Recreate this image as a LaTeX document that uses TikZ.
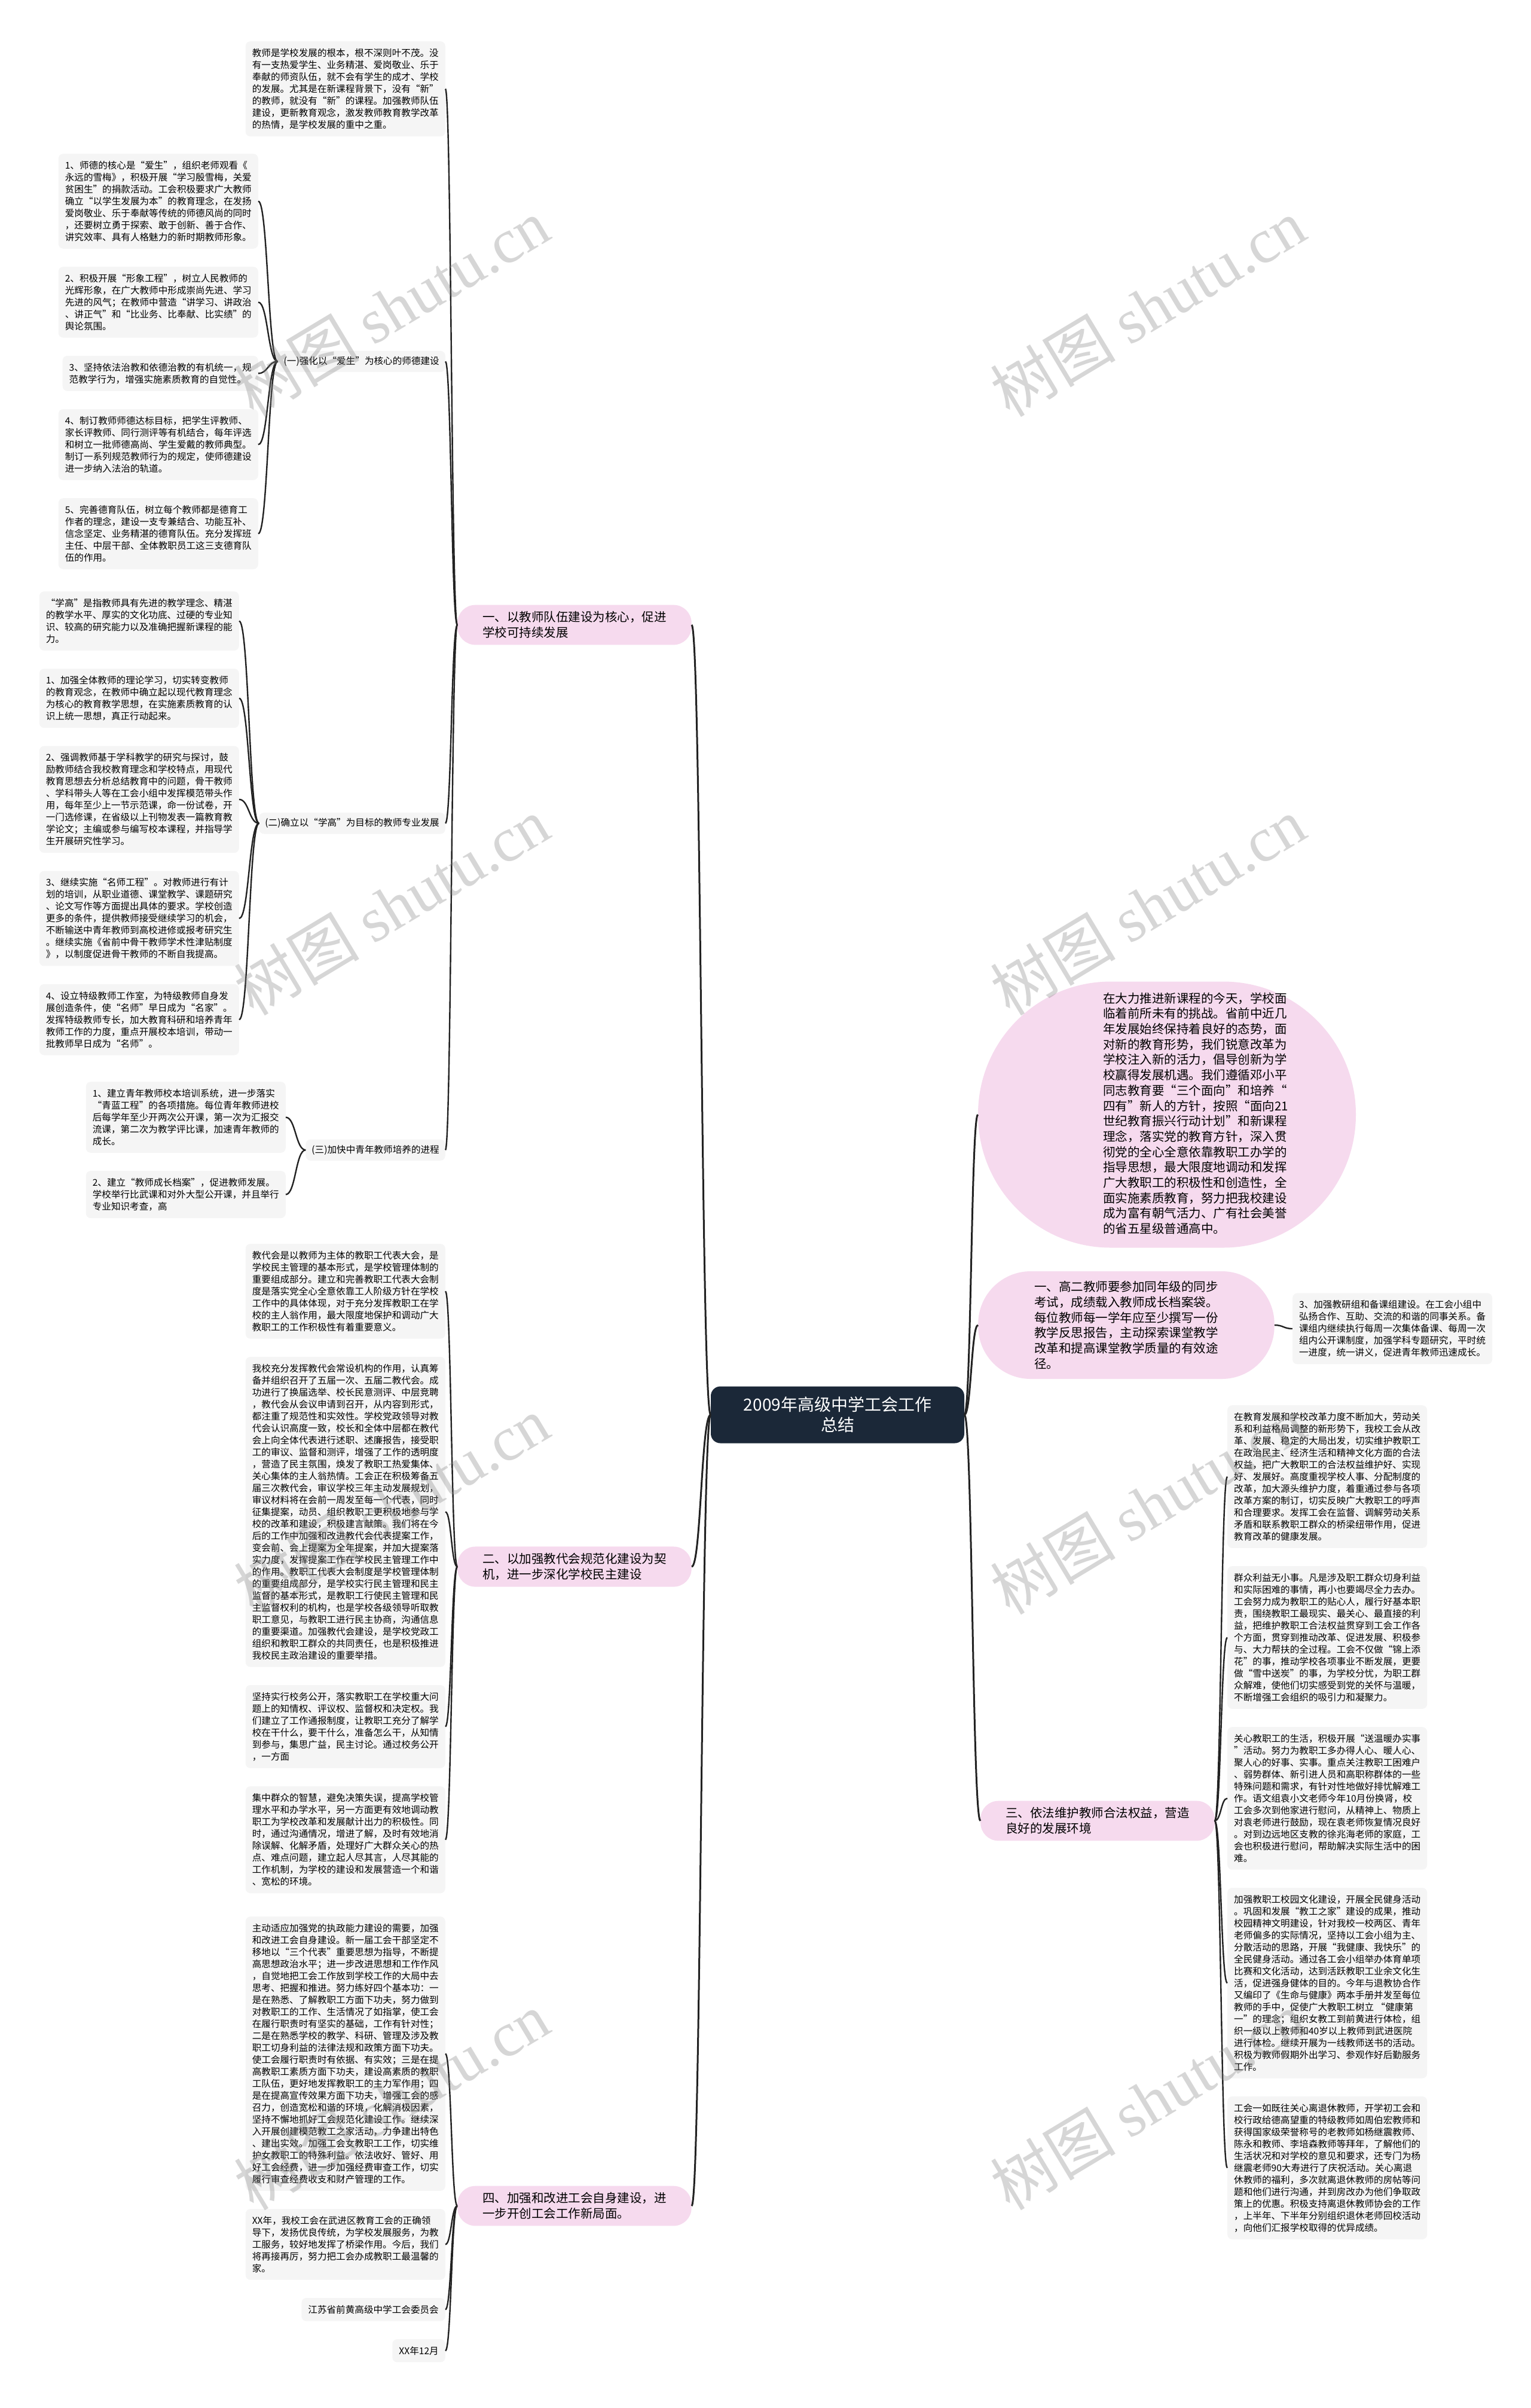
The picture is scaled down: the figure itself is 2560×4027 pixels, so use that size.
\documentclass[tikz,border=0pt]{standalone}
\usepackage{fontspec}
\newfontfamily\cjk{Noto Sans CJK SC}
\newfontfamily\wmlatin{Liberation Serif}
\usetikzlibrary{positioning,calc}
\definecolor{Ink}{RGB}{34,34,34}
\definecolor{Navy}{RGB}{27,40,56}
\definecolor{Blush}{RGB}{246,218,238}
\definecolor{Paper}{RGB}{245,245,245}

\begin{document}
\begin{tikzpicture}[x=1pt,y=-1pt,
    root/.style={rectangle,fill=Navy,text=white,rounded corners=16pt,minimum width=424pt,minimum height=95pt,align=center,font=\cjk\fontsize{28}{34}\selectfont},
    topic/.style={rectangle,fill=Blush,rounded corners=30pt,inner xsep=42pt,inner ysep=11pt,align=left,font=\cjk\fontsize{20.5}{25.7}\selectfont},
    pill/.style={rectangle,fill=Blush,align=left,font=\cjk\fontsize{20.5}{25.7}\selectfont},
    sub/.style={rectangle,fill=Paper,rounded corners=8pt,inner xsep=10pt,inner ysep=9.5pt,font=\cjk\fontsize{15.6}{20}\selectfont},
    blk/.style={rectangle,fill=Paper,rounded corners=8pt,inner xsep=11pt,inner ysep=12pt,align=left,font=\cjk\fontsize{15.6}{20}\selectfont},
    link/.style={draw=Ink,line width=2.4pt,to path={let \p1=(\tikztostart),\p2=(\tikztotarget) in .. controls ({0.5*\x1+0.5*\x2},\y1) and ({0.5*\x1+0.5*\x2},\y2) .. (\tikztotarget)}},
    trunk/.style={link,line width=3pt},
    wmark/.style={text=gray,opacity=.32,rotate=31,font=\cjk\fontsize{105}{105}\selectfont}
]
\fill[white] (0,0) rectangle (2560,4027);
\useasboundingbox (0,0) rectangle (2560,4027);

% Root
\node[root] (ctr) at (1401,2366) {2009年高级中学工会工作\\总结};

% Section one (left)
\node[topic,anchor=west] (l1a) at (765,1045) {一、以教师队伍建设为核心，促进\\学校可持续发展};
\node[blk,anchor=north east] (a0) at (745,69) {教师是学校发展的根本，根不深则叶不茂。没\\有一支热爱学生、业务精湛、爱岗敬业、乐于\\奉献的师资队伍，就不会有学生的成才、学校\\的发展。尤其是在新课程背景下，没有“新”\\的教师，就没有“新”的课程。加强教师队伍\\建设，更新教育观念，激发教师教育教学改革\\的热情，是学校发展的重中之重。};

\node[blk,anchor=north east] (b1) at (432,257) {1、师德的核心是“爱生”，组织老师观看《\\永远的雪梅》，积极开展“学习殷雪梅，关爱\\贫困生”的捐款活动。工会积极要求广大教师\\确立“以学生发展为本”的教育理念，在发扬\\爱岗敬业、乐于奉献等传统的师德风尚的同时\\，还要树立勇于探索、敢于创新、善于合作、\\讲究效率、具有人格魅力的新时期教师形象。};
\node[blk,anchor=north east] (b2) at ($(b1.south east)+(0,30)$) {2、积极开展“形象工程”，树立人民教师的\\光辉形象，在广大教师中形成崇尚先进、学习\\先进的风气；在教师中营造“讲学习、讲政治\\、讲正气”和“比业务、比奉献、比实绩”的\\舆论氛围。};
\node[blk,anchor=north east] (b3) at ($(b2.south east)+(0,30)$) {3、坚持依法治教和依德治教的有机统一，规\\范教学行为，增强实施素质教育的自觉性。};
\node[blk,anchor=north east] (b4) at ($(b3.south east)+(0,30)$) {4、制订教师师德达标目标，把学生评教师、\\家长评教师、同行测评等有机结合，每年评选\\和树立一批师德高尚、学生爱戴的教师典型。\\制订一系列规范教师行为的规定，使师德建设\\进一步纳入法治的轨道。};
\node[blk,anchor=north east] (b5) at ($(b4.south east)+(0,30)$) {5、完善德育队伍，树立每个教师都是德育工\\作者的理念，建设一支专兼结合、功能互补、\\信念坚定、业务精湛的德育队伍。充分发挥班\\主任、中层干部、全体教职员工这三支德育队\\伍的作用。};
\path let \p1=($(b1.north)!.5!(b5.south)$) in node[sub,anchor=east] (grp1) at (745pt,\y1) {(一)强化以“爱生”为核心的师德建设};

\node[blk,anchor=north east] (c0) at (400,989) {“学高”是指教师具有先进的教学理念、精湛\\的教学水平、厚实的文化功底、过硬的专业知\\识、较高的研究能力以及准确把握新课程的能\\力。};
\node[blk,anchor=north east] (c1) at ($(c0.south east)+(0,30)$) {1、加强全体教师的理论学习，切实转变教师\\的教育观念，在教师中确立起以现代教育理念\\为核心的教育教学思想，在实施素质教育的认\\识上统一思想，真正行动起来。};
\node[blk,anchor=north east] (c2) at ($(c1.south east)+(0,30)$) {2、强调教师基于学科教学的研究与探讨，鼓\\励教师结合我校教育理念和学校特点，用现代\\教育思想去分析总结教育中的问题，骨干教师\\、学科带头人等在工会小组中发挥模范带头作\\用，每年至少上一节示范课，命一份试卷，开\\一门选修课，在省级以上刊物发表一篇教育教\\学论文；主编或参与编写校本课程，并指导学\\生开展研究性学习。};
\node[blk,anchor=north east] (c3) at ($(c2.south east)+(0,30)$) {3、继续实施“名师工程”。对教师进行有计\\划的培训，从职业道德、课堂教学、课题研究\\、论文写作等方面提出具体的要求。学校创造\\更多的条件，提供教师接受继续学习的机会，\\不断输送中青年教师到高校进修或报考研究生\\。继续实施《省前中骨干教师学术性津贴制度\\》，以制度促进骨干教师的不断自我提高。};
\node[blk,anchor=north east] (c4) at ($(c3.south east)+(0,30)$) {4、设立特级教师工作室，为特级教师自身发\\展创造条件，使“名师”早日成为“名家”。\\发挥特级教师专长，加大教育科研和培养青年\\教师工作的力度，重点开展校本培训，带动一\\批教师早日成为“名师”。};
\path let \p1=($(c0.north)!.5!(c4.south)$) in node[sub,anchor=east] (grp2) at (745pt,\y1) {(二)确立以“学高”为目标的教师专业发展};

\node[blk,anchor=north east] (d1) at (478,1809) {1、建立青年教师校本培训系统，进一步落实\\“青蓝工程”的各项措施。每位青年教师进校\\后每学年至少开两次公开课，第一次为汇报交\\流课，第二次为教学评比课，加速青年教师的\\成长。};
\node[blk,anchor=north east] (d2) at ($(d1.south east)+(0,30)$) {2、建立“教师成长档案”，促进教师发展。\\学校举行比武课和对外大型公开课，并且举行\\专业知识考查，高};
\path let \p1=($(d1.north)!.5!(d2.south)$) in node[sub,anchor=east] (grp3) at (745pt,\y1) {(三)加快中青年教师培养的进程};

\draw[link] (l1a.west) to (a0.east);
\draw[link] (l1a.west) to (grp1.east);
\draw[link] (l1a.west) to (grp2.east);
\draw[link] (l1a.west) to (grp3.east);
\draw[link] (grp1.west) to (b1.east);
\draw[link] (grp1.west) to (b2.east);
\draw[link] (grp1.west) to (b3.east);
\draw[link] (grp1.west) to (b4.east);
\draw[link] (grp1.west) to (b5.east);
\draw[link] (grp2.west) to (c0.east);
\draw[link] (grp2.west) to (c1.east);
\draw[link] (grp2.west) to (c2.east);
\draw[link] (grp2.west) to (c3.east);
\draw[link] (grp2.west) to (c4.east);
\draw[link] (grp3.west) to (d1.east);
\draw[link] (grp3.west) to (d2.east);

% Section two (left)
\node[topic,anchor=west] (l1b) at (765,2620) {二、以加强教代会规范化建设为契\\机，进一步深化学校民主建设};
\node[blk,anchor=north east] (e0) at (745,2080) {教代会是以教师为主体的教职工代表大会，是\\学校民主管理的基本形式，是学校管理体制的\\重要组成部分。建立和完善教职工代表大会制\\度是落实党全心全意依靠工人阶级方针在学校\\工作中的具体体现，对于充分发挥教职工在学\\校的主人翁作用，最大限度地保护和调动广大\\教职工的工作积极性有着重要意义。};
\node[blk,anchor=north east] (e1) at ($(e0.south east)+(0,30)$) {我校充分发挥教代会常设机构的作用，认真筹\\备并组织召开了五届一次、五届二教代会。成\\功进行了换届选举、校长民意测评、中层竞聘\\，教代会从会议申请到召开，从内容到形式，\\都注重了规范性和实效性。学校党政领导对教\\代会认识高度一致，校长和全体中层都在教代\\会上向全体代表进行述职、述廉报告，接受职\\工的审议、监督和测评，增强了工作的透明度\\，营造了民主氛围，焕发了教职工热爱集体、\\关心集体的主人翁热情。工会正在积极筹备五\\届三次教代会，审议学校三年主动发展规划，\\审议材料将在会前一周发至每一个代表，同时\\征集提案，动员、组织教职工更积极地参与学\\校的改革和建设，积极建言献策。我们将在今\\后的工作中加强和改进教代会代表提案工作，\\变会前、会上提案为全年提案，并加大提案落\\实力度，发挥提案工作在学校民主管理工作中\\的作用。教职工代表大会制度是学校管理体制\\的重要组成部分，是学校实行民主管理和民主\\监督的基本形式，是教职工行使民主管理和民\\主监督权利的机构，也是学校各级领导听取教\\职工意见，与教职工进行民主协商，沟通信息\\的重要渠道。加强教代会建设，是学校党政工\\组织和教职工群众的共同责任，也是积极推进\\我校民主政治建设的重要举措。};
\node[blk,anchor=north east] (e2) at ($(e1.south east)+(0,30)$) {坚持实行校务公开，落实教职工在学校重大问\\题上的知情权、评议权、监督权和决定权。我\\们建立了工作通报制度，让教职工充分了解学\\校在干什么，要干什么，准备怎么干，从知情\\到参与，集思广益，民主讨论。通过校务公开\\，一方面};
\node[blk,anchor=north east] (e3) at ($(e2.south east)+(0,30)$) {集中群众的智慧，避免决策失误，提高学校管\\理水平和办学水平，另一方面更有效地调动教\\职工为学校改革和发展献计出力的积极性。同\\时，通过沟通情况，增进了解，及时有效地消\\除误解、化解矛盾，处理好广大群众关心的热\\点、难点问题，建立起人尽其言，人尽其能的\\工作机制，为学校的建设和发展营造一个和谐\\、宽松的环境。};

\draw[link] (l1b.west) to (e0.east);
\draw[link] (l1b.west) to (e1.east);
\draw[link] (l1b.west) to (e2.east);
\draw[link] (l1b.west) to (e3.east);

% Section four (left)
\node[topic,anchor=west] (l1d) at (765,3689) {四、加强和改进工会自身建设，进\\一步开创工会工作新局面。};
\node[blk,anchor=north east] (f0) at (745,3205) {主动适应加强党的执政能力建设的需要，加强\\和改进工会自身建设。新一届工会干部坚定不\\移地以“三个代表”重要思想为指导，不断提\\高思想政治水平；进一步改进思想和工作作风\\，自觉地把工会工作放到学校工作的大局中去\\思考、把握和推进。努力练好四个基本功：一\\是在熟悉、了解教职工方面下功夫，努力做到\\对教职工的工作、生活情况了如指掌，使工会\\在履行职责时有坚实的基础，工作有针对性；\\二是在熟悉学校的教学、科研、管理及涉及教\\职工切身利益的法律法规和政策方面下功夫。\\使工会履行职责时有依据、有实效；三是在提\\高教职工素质方面下功夫，建设高素质的教职\\工队伍，更好地发挥教职工的主力军作用；四\\是在提高宣传效果方面下功夫，增强工会的感\\召力，创造宽松和谐的环境，化解消极因素，\\坚持不懈地抓好工会规范化建设工作。继续深\\入开展创建模范教工之家活动，力争建出特色\\、建出实效。加强工会女教职工工作，切实维\\护女教职工的特殊利益。依法收好、管好、用\\好工会经费，进一步加强经费审查工作，切实\\履行审查经费收支和财产管理的工作。};
\node[blk,anchor=north east] (f1) at ($(f0.south east)+(0,30)$) {XX年，我校工会在武进区教育工会的正确领\\导下，发扬优良传统，为学校发展服务，为教\\工服务，较好地发挥了桥梁作用。今后，我们\\将再接再厉，努力把工会办成教职工最温馨的\\家。};
\node[blk,anchor=north east] (f2) at ($(f1.south east)+(0,30)$) {江苏省前黄高级中学工会委员会};
\node[blk,anchor=north east] (f3) at ($(f2.south east)+(0,30)$) {XX年12月};

\draw[link] (l1d.west) to (f0.east);
\draw[link] (l1d.west) to (f1.east);
\draw[link] (l1d.west) to (f2.east);
\draw[link] (l1d.west) to (f3.east);

% Right side
\node[pill,rounded corners=222pt,minimum width=632pt,minimum height=445pt] (r1) at (1952,1864) {};
\node[pill,fill=none,inner sep=0pt] (r1txt) at (2000,1862) {在大力推进新课程的今天，学校面\\临着前所未有的挑战。省前中近几\\年发展始终保持着良好的态势，面\\对新的教育形势，我们锐意改革为\\学校注入新的活力，倡导创新为学\\校赢得发展机遇。我们遵循邓小平\\同志教育要“三个面向”和培养“\\四有”新人的方针，按照“面向21\\世纪教育振兴行动计划”和新课程\\理念，落实党的教育方针，深入贯\\彻党的全心全意依靠教职工办学的\\指导思想，最大限度地调动和发挥\\广大教职工的积极性和创造性，全\\面实施素质教育，努力把我校建设\\成为富有朝气活力、广有社会美誉\\的省五星级普通高中。};

\node[pill,rounded corners=88pt,minimum height=180pt,inner xsep=94pt,inner ysep=15pt,anchor=west] (r2) at (1636,2216) {一、高二教师要参加同年级的同步\\考试，成绩载入教师成长档案袋。\\每位教师每一学年应至少撰写一份\\教学反思报告，主动探索课堂教学\\改革和提高课堂教学质量的有效途\\径。};
\node[blk,anchor=west] (r2a) at ($(r2.east)+(30,6)$) {3、加强教研组和备课组建设。在工会小组中\\弘扬合作、互助、交流的和谐的同事关系。备\\课组内继续执行每周一次集体备课、每周一次\\组内公开课制度，加强学科专题研究，平时统\\一进度，统一讲义，促进青年教师迅速成长。};
\draw[link] (r2.east) to (r2a.west);

\node[topic,anchor=west] (r3) at (1640,3045) {三、依法维护教师合法权益，营造\\良好的发展环境};
\node[blk,anchor=north west] (h0) at (2053,2350) {在教育发展和学校改革力度不断加大，劳动关\\系和利益格局调整的新形势下，我校工会从改\\革、发展、稳定的大局出发，切实维护教职工\\在政治民主、经济生活和精神文化方面的合法\\权益，把广大教职工的合法权益维护好、实现\\好、发展好。高度重视学校人事、分配制度的\\改革，加大源头维护力度，着重通过参与各项\\改革方案的制订，切实反映广大教职工的呼声\\和合理要求。发挥工会在监督、调解劳动关系\\矛盾和联系教职工群众的桥梁纽带作用，促进\\教育改革的健康发展。};
\node[blk,anchor=north west] (h1) at ($(h0.south west)+(0,30)$) {群众利益无小事。凡是涉及职工群众切身利益\\和实际困难的事情，再小也要竭尽全力去办。\\工会努力成为教职工的贴心人，履行好基本职\\责，围绕教职工最现实、最关心、最直接的利\\益，把维护教职工合法权益贯穿到工会工作各\\个方面，贯穿到推动改革、促进发展、积极参\\与、大力帮扶的全过程。工会不仅做“锦上添\\花”的事，推动学校各项事业不断发展，更要\\做“雪中送炭”的事，为学校分忧，为职工群\\众解难，使他们切实感受到党的关怀与温暖，\\不断增强工会组织的吸引力和凝聚力。};
\node[blk,anchor=north west] (h2) at ($(h1.south west)+(0,30)$) {关心教职工的生活，积极开展“送温暖办实事\\”活动。努力为教职工多办得人心、暖人心、\\聚人心的好事、实事。重点关注教职工困难户\\、弱势群体、新引进人员和高职称群体的一些\\特殊问题和需求，有针对性地做好排忧解难工\\作。语文组袁小文老师今年10月份换肾，校\\工会多次到他家进行慰问，从精神上、物质上\\对袁老师进行鼓励，现在袁老师恢复情况良好\\。对到边远地区支教的徐兆海老师的家庭，工\\会也积极进行慰问，帮助解决实际生活中的困\\难。};
\node[blk,anchor=north west] (h3) at ($(h2.south west)+(0,30)$) {加强教职工校园文化建设，开展全民健身活动\\。巩固和发展“教工之家”建设的成果，推动\\校园精神文明建设，针对我校一校两区、青年\\老师偏多的实际情况，坚持以工会小组为主、\\分散活动的思路，开展“我健康、我快乐”的\\全民健身活动。通过各工会小组举办体育单项\\比赛和文化活动，达到活跃教职工业余文化生\\活，促进强身健体的目的。今年与退教协合作\\又编印了《生命与健康》两本手册并发至每位\\教师的手中，促使广大教职工树立 “健康第\\一”的理念；组织女教工到前黄进行体检，组\\织一级以上教师和40岁以上教师到武进医院\\进行体检。继续开展为一线教师送书的活动。\\积极为教师假期外出学习、参观作好后勤服务\\工作。};
\node[blk,anchor=north west] (h4) at ($(h3.south west)+(0,30)$) {工会一如既往关心离退休教师，开学初工会和\\校行政给德高望重的特级教师如周伯宏教师和\\获得国家级荣誉称号的老教师如杨继震教师、\\陈永和教师、李培森教师等拜年，了解他们的\\生活状况和对学校的意见和要求，还专门为杨\\继震老师90大寿进行了庆祝活动。关心离退\\休教师的福利，多次就离退休教师的房帖等问\\题和他们进行沟通，并到房改办为他们争取政\\策上的优惠。积极支持离退休教师协会的工作\\，上半年、下半年分别组织退休老师回校活动\\，向他们汇报学校取得的优异成绩。};

\draw[link] (r3.east) to (h0.west);
\draw[link] (r3.east) to (h1.west);
\draw[link] (r3.east) to (h2.west);
\draw[link] (r3.east) to (h3.west);
\draw[link] (r3.east) to (h4.west);

% Root connectors
\draw[trunk] (ctr.west) to (l1a.east);
\draw[trunk] (ctr.west) to (l1b.east);
\draw[trunk] (ctr.west) to (l1d.east);
\draw[trunk] (ctr.east) to (r1.west);
\draw[trunk] (ctr.east) to (r2.west);
\draw[trunk] (ctr.east) to (r3.west);

% Watermarks
\foreach \wx in {655,1920}
  \foreach \wy in {514,1515,2517,3513}
    \node[wmark] at (\wx,\wy) {树图 {\wmlatin shutu.cn}};

\end{tikzpicture}
\end{document}
